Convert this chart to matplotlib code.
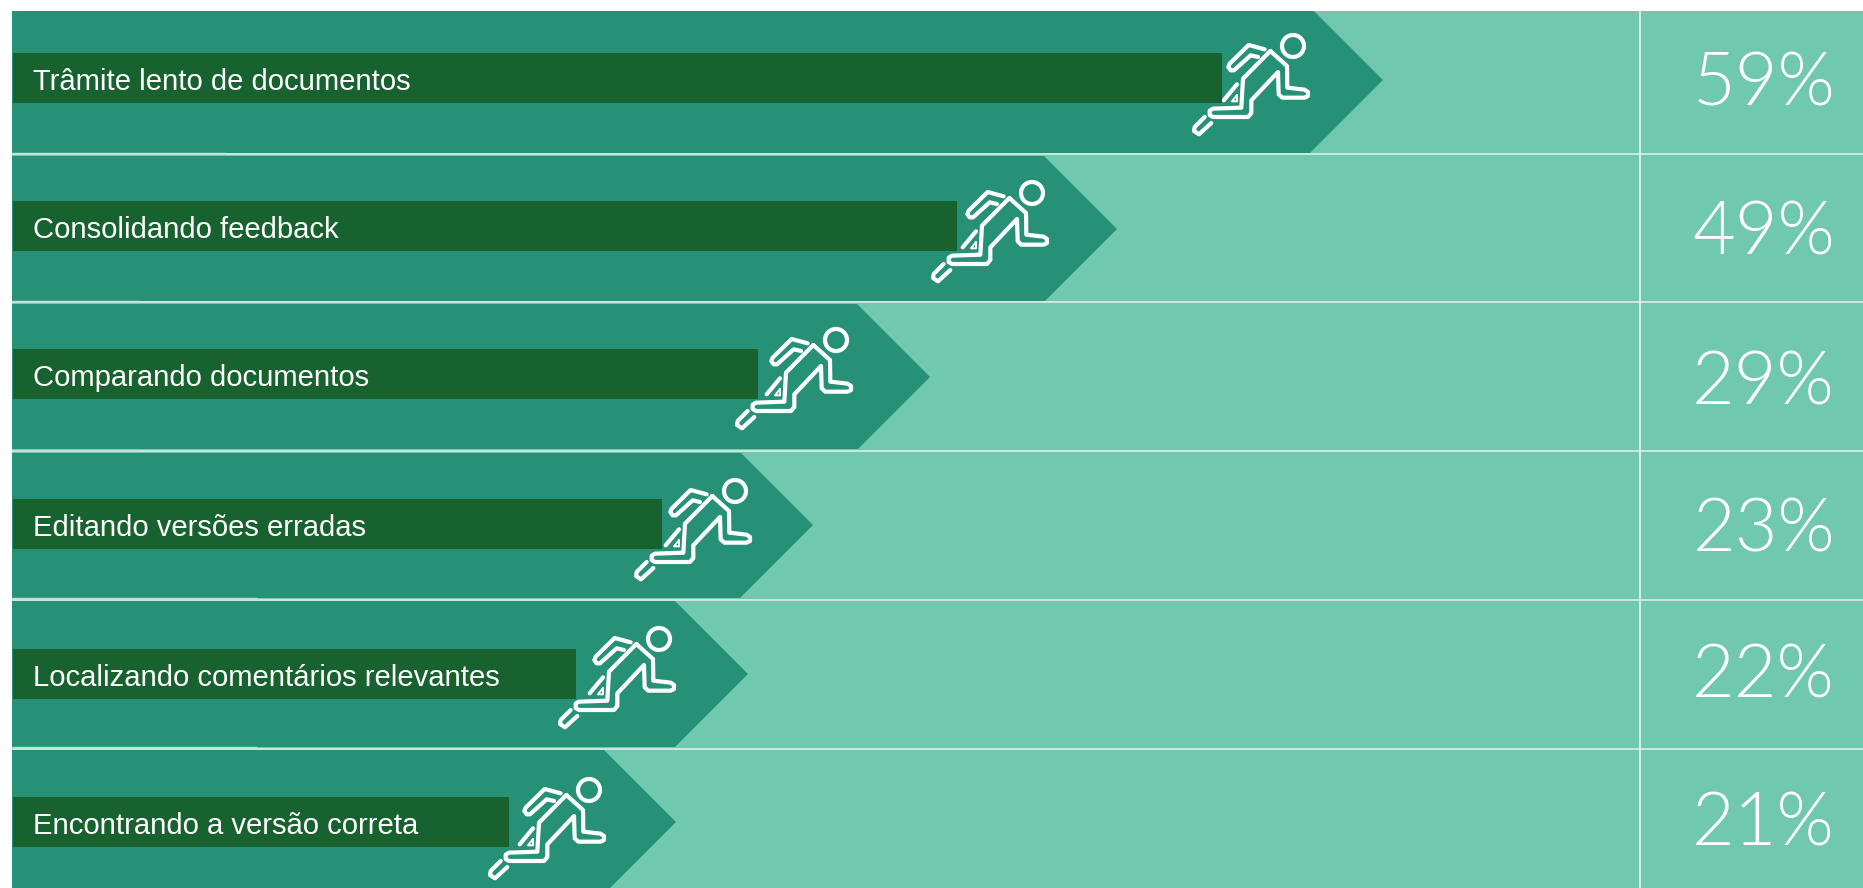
import matplotlib
matplotlib.use("Agg")
import matplotlib.pyplot as plt
from matplotlib.patches import Rectangle, Circle

# ---- data ----
labels = ["Trâmite lento de documentos", "Consolidando feedback", "Comparando documentos",
          "Editando versões erradas", "Localizando comentários relevantes", "Encontrando a versão correta"]
percents = [59, 49, 29, 23, 22, 21]
arrow_ends = [1383, 1117, 930, 813, 748, 676]      # arrow tip on the x axis
bar_ends = [1222, 957, 758, 662, 576, 509]         # dark bar end on the x axis
runner_x = [1293, 1032, 836, 735, 659, 589]        # runner head on the x axis

# ---- layout (pixel axes) ----
W, H = 1863, 888
LEFT, TOP = 12, 11
row_tops = [11, 156, 304, 453, 601, 750]
row_bots = [153, 301, 449, 598, 747, 894]
tip_y = [80, 229, 377, 525, 674, 822]
bar_top = [53, 201, 349, 499, 649, 797]
bar_h = 50
head_y = [46, 193, 340, 491, 639, 790]
seps = [154.5, 302.5, 451, 599.5, 748.5]
sep_pale = [225, 140, 140, 257, 257]
pct_base = [106, 254, 404, 551, 697, 845]
txt_base = [90, 238, 386, 536, 686, 834]
VSEP = 1640

LIGHT, MID, DARK = "#70C8AE", "#269176", "#17622F"

fig = plt.figure(figsize=(W / 100, H / 100), dpi=100, facecolor="white")
ax = fig.add_axes([0, 0, 1, 1])
ax.set_xlim(0, W)
ax.set_ylim(H, 0)
ax.axis("off")

ax.add_patch(Rectangle((LEFT, TOP), W - LEFT, H - TOP, fc=LIGHT, ec="none", zorder=0))

# runner icon, strokes relative to the head centre, in px
def z(points):
    return [((a - 430) / 3, (b - 137) / 3) for a, b in points]

STROKE = 3.0
runner_lines = [
    (z([(345, 147), (297, 134), (240, 190), (236, 200), (243, 210), (253, 210), (303, 165), (325, 170)]), STROKE),
    (z([(362, 152), (412, 197), (413, 262), (465, 268), (475, 275), (475, 287), (465, 292), (398, 292),
        (387, 282), (385, 215), (305, 300), (305, 338), (295, 350), (190, 350), (180, 344), (180, 331),
        (190, 325), (275, 322), (280, 235), (362, 152)]), STROKE),
    (z([(262, 252), (222, 300)]), STROKE),
    (z([(262, 284), (247, 303), (262, 303), (262, 284)]), 1.4),
    (z([(165, 350), (135, 380), (133, 392), (148, 402), (185, 368)]), STROKE),
]

for i in range(len(labels)):
    tip = arrow_ends[i]
    up = tip_y[i] - row_tops[i]
    dn = row_bots[i] - tip_y[i]
    ax.fill([LEFT, tip - up, tip, tip - dn, LEFT],
            [row_tops[i], row_tops[i], tip_y[i], row_bots[i], row_bots[i]],
            fc=MID, ec="none", zorder=1)
    hx, hy = runner_x[i], head_y[i]
    for line, lw in runner_lines:
        ax.plot([hx + p[0] for p in line], [hy + p[1] for p in line], color="white", lw=lw,
                solid_capstyle="round", solid_joinstyle="round", zorder=2)
    ax.add_patch(Circle((hx, hy), 11, fc="none", ec="white", lw=STROKE, zorder=2))
    ax.barh(bar_top[i] + bar_h / 2, bar_ends[i] - 13, left=13, height=bar_h, color=DARK, zorder=3)
    ax.text(33, txt_base[i], labels[i], color="white", fontsize=21.1, family="Liberation Sans",
            ha="left", va="baseline", zorder=4)
    ax.text(1835, pct_base[i], f"{percents[i]}%", color="white", fontsize=53, family="Lato",
            fontweight=300, ha="right", va="baseline", zorder=4)

for y, x in zip(seps, sep_pale):
    ax.plot([LEFT, W], [y, y], color="#E4F3EE", lw=1.1, zorder=5, solid_capstyle="butt")
    ax.plot([LEFT, x], [y - 1.2, y - 1.2], color="#BFE0D7", lw=1.0, zorder=5, solid_capstyle="butt")
ax.plot([VSEP, VSEP], [TOP, H], color="#F0F8F5", lw=1.1, zorder=5, solid_capstyle="butt")

fig.savefig("out.png", dpi=100, facecolor="white")
